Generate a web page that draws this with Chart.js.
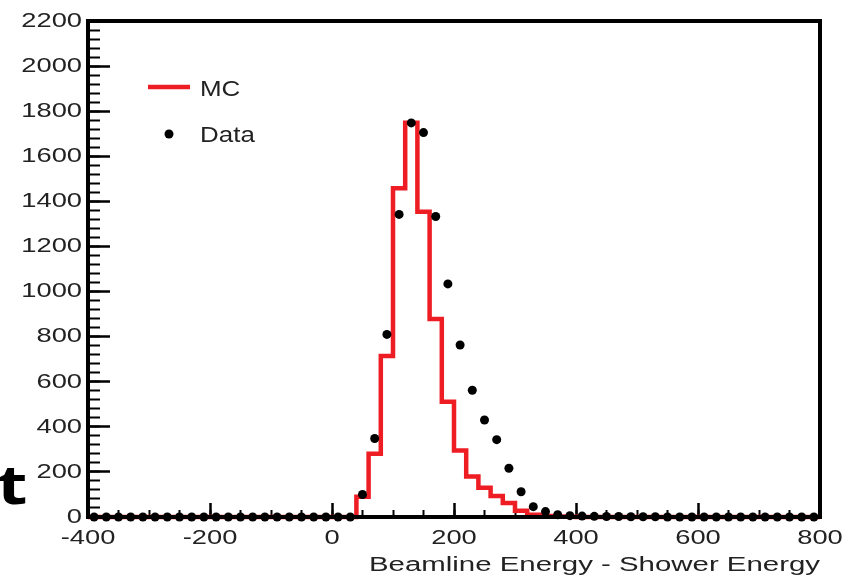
<!DOCTYPE html>
<html>
<head>
<meta charset="utf-8">
<title>Beamline Energy - Shower Energy</title>
<script src="https://cdn.jsdelivr.net/npm/chart.js@4.4.1/dist/chart.umd.min.js"></script>
<style>
  html, body { margin: 0; padding: 0; background: #fff; }
  #wrap { position: relative; width: 847px; height: 578px; overflow: hidden; }
  #cut {
    position: absolute; left: -3px; top: 456px;
    font: bold 54px 'Open Sans', 'DejaVu Sans', sans-serif; color: #000; line-height: 1;
    transform: scaleX(1.3); transform-origin: left top;
  }
</style>
</head>
<body>
<div id="wrap">
  <canvas id="chart" width="847" height="578"></canvas>
  <div id="cut">t</div>
</div>
<script>
// histogram binning: 60 bins of 20 from -400 to 800
const xMin = -400;
const xMax = 800;
const binWidth = 20;
const yMax = 2200;
const xTickStep = 200;
const yTickStep = 200;

// MC counts per bin
const mcCounts = [
  0, 0, 0, 0, 0, 0, 0, 0, 0, 0, 0, 0, 0, 0, 0, 0, 0, 0, 0, 0, 0, 0,   // -400 .. 40
  90, 280, 714, 1458, 1749, 1354, 878, 511, 295, 180,                 // 40 .. 240
  130, 93, 62, 28, 10, 4, 2, 1, 0, 0,                                 // 240 .. 440
  0, 0, 0, 0, 0, 0, 0, 0, 0, 0, 0, 0, 0, 0, 0, 0, 0, 0                // 440 .. 800
];

// Data counts per bin (black markers)
const dataCounts = [
  0, 0, 0, 0, 0, 0, 0, 0, 0, 0, 0, 0, 0, 0, 0, 0, 0, 0, 0, 0, 0, 0,
  100, 348, 810, 1342, 1748, 1705, 1333, 1034, 763, 562,
  430, 343, 216, 112, 46, 24, 10, 6, 4, 3,
  2, 2, 1, 1, 1, 0, 0, 0, 0, 0, 0, 0, 0, 0, 0, 0, 0, 0
];

const FONT = "'Liberation Sans', Arial, sans-serif";

// the source figure was stretched sideways, so widen text the same way (keyed by font size)
const textStretch = { 20: 1.47, 21: 1.3, 22: 1.18 };
function stretchText(ctx) {
  const fill = ctx.fillText;
  ctx.fillText = function (text, x, y) {
    const m = /(\d+(?:\.\d+)?)px/.exec(this.font);
    const sx = (m && textStretch[Math.round(m[1])]) || 1;
    this.save();
    this.translate(x, y);
    this.scale(sx, 1);
    fill.call(this, text, 0, 0);
    this.restore();
  };
}

// ROOT style frame around the plot
const frame = {
  id: 'frame',
  afterDatasetsDraw(chart) {
    const { ctx, chartArea: a } = chart;
    ctx.save();
    ctx.strokeStyle = '#000';
    ctx.lineWidth = 4;
    ctx.strokeRect(a.left, a.top, a.right - a.left, a.bottom - a.top);
    ctx.restore();
  }
};

// legend inside the plot, top left
const legendBox = {
  id: 'legendBox',
  afterDraw(chart) {
    const { ctx, chartArea: a } = chart;
    const data = chart.data.datasets[0];
    const mc = chart.data.datasets[1];
    const x0 = a.left + 60, x1 = a.left + 102, tx = a.left + 112;
    ctx.save();
    ctx.strokeStyle = mc.borderColor;
    ctx.lineWidth = mc.borderWidth;
    ctx.beginPath();
    ctx.moveTo(x0, a.top + 66);
    ctx.lineTo(x1, a.top + 66);
    ctx.stroke();
    ctx.fillStyle = data.pointBackgroundColor;
    ctx.beginPath();
    ctx.arc((x0 + x1) / 2, a.top + 113, data.pointRadius, 0, 2 * Math.PI);
    ctx.fill();
    ctx.fillStyle = '#222';
    ctx.font = '22px ' + FONT;
    ctx.textAlign = 'left';
    ctx.textBaseline = 'middle';
    ctx.fillText('MC', tx, a.top + 69);
    ctx.fillText('Data', tx, a.top + 115);
    ctx.restore();
  }
};

const ctx = document.getElementById('chart').getContext('2d');
stretchText(ctx);

// MC as a step line through the lower bin edges, closed at the last edge
const mcPoints = mcCounts.map((y, i) => ({ x: xMin + i * binWidth, y }));
mcPoints.push({ x: xMax, y: mcCounts[mcCounts.length - 1] });
const dataPoints = dataCounts.map((y, i) => ({ x: xMin + (i + 0.5) * binWidth, y }));

Chart.defaults.font.family = FONT;

new Chart(ctx, {
  type: 'line',
  data: {
    datasets: [
      {
        label: 'Data',
        data: dataPoints,
        showLine: false,
        pointRadius: 4.5,
        pointBackgroundColor: '#000',
        pointBorderWidth: 0,
        clip: 8,
        order: 0
      },
      {
        label: 'MC',
        data: mcPoints,
        stepped: 'before',
        borderColor: '#ee1d23',
        borderWidth: 4.5,
        borderJoinStyle: 'miter',
        pointRadius: 0,
        fill: false,
        clip: 8,
        order: 1
      }
    ]
  },
  options: {
    responsive: false,
    animation: false,
    devicePixelRatio: 1,
    layout: { padding: { top: 21, right: 27, left: 0, bottom: 0 } },
    plugins: {
      legend: { display: false },
      tooltip: { enabled: false }
    },
    scales: {
      x: {
        type: 'linear',
        position: 'bottom',
        min: xMin,
        max: xMax,
        weight: 1,
        // fixed axis size; labels may overhang, like the original
        afterFit: s => { s.height = 61; s.paddingLeft = 0; s.paddingRight = 0; },
        border: { display: false },
        grid: { drawOnChartArea: false, tickLength: -14, tickWidth: 2.5, tickColor: '#000' },
        ticks: {
          stepSize: xTickStep,
          padding: 23,
          color: '#222',
          font: { size: 21 },
          maxRotation: 0,
          autoSkip: false,
          callback: v => String(v)
        },
        title: {
          display: true,
          text: 'Beamline Energy - Shower Energy',
          align: 'end',
          color: '#222',
          font: { size: 20 },
          padding: { top: 0, bottom: 1 }
        }
      },
      xMinor: {
        type: 'linear',
        axis: 'x',
        position: 'bottom',
        min: xMin,
        max: xMax,
        weight: 0,
        afterFit: s => { s.height = 0; s.paddingLeft = 0; s.paddingRight = 0; },
        border: { display: false },
        grid: { drawOnChartArea: false, tickLength: -7, tickWidth: 2, tickColor: '#000' },
        ticks: { display: false, stepSize: 50 }
      },
      y: {
        type: 'linear',
        position: 'left',
        min: 0,
        max: yMax,
        weight: 1,
        afterFit: s => { s.width = 88; s.paddingTop = 0; s.paddingBottom = 0; },
        border: { display: false },
        grid: { drawOnChartArea: false, tickLength: -22, tickWidth: 2.5, tickColor: '#000' },
        ticks: {
          stepSize: yTickStep,
          padding: 28,
          color: '#222',
          font: { size: 21 },
          callback: v => String(v)
        }
      },
      yMinor: {
        type: 'linear',
        axis: 'y',
        position: 'left',
        min: 0,
        max: yMax,
        weight: 0,
        afterFit: s => { s.width = 0; s.paddingTop = 0; s.paddingBottom = 0; },
        border: { display: false },
        grid: { drawOnChartArea: false, tickLength: -12, tickWidth: 2, tickColor: '#000' },
        ticks: { display: false, stepSize: 40 }
      }
    }
  },
  plugins: [frame, legendBox]
});
</script>
</body>
</html>
